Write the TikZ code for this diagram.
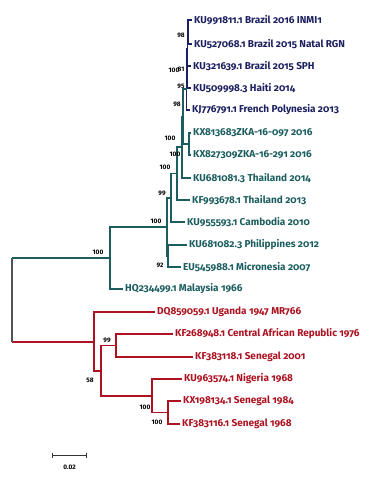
\documentclass[tikz,border=0pt]{standalone}
\usepackage{fontspec}
\setmainfont{Fira Sans}[Numbers=OldStyle]
\newfontfamily\bootfont{Fira Sans}[Numbers=Lining]
\usetikzlibrary{positioning,arrows.meta}

\definecolor{navyz}{RGB}{28,32,96}
\definecolor{tealz}{RGB}{28,94,96}
\definecolor{redz}{RGB}{172,18,32}
\definecolor{rootz}{RGB}{80,84,86}

\begin{document}
\begin{tikzpicture}[x=1pt,y=-1pt,
  tipname/.style={anchor=west, inner sep=2pt, font=\fontsize{10}{11}\selectfont\bfseries},
  boot/.style={inner sep=0pt, font=\bootfont\fontsize{6.5}{7}\selectfont\bfseries},
  branch/.style={line width=1.1pt}]
\useasboundingbox (0,0) rectangle (374,480);

% tips
\node[tipname, navyz] (t1) at (192,20) {KU991811.1 Brazil 2016 INMI1};
\node[tipname, navyz] (t2) at (192,44) {KU527068.1 Brazil 2015 Natal RGN};
\node[tipname, navyz] (t3) at (191,66) {KU321639.1 Brazil 2015 SPH};
\node[tipname, navyz] (t4) at (191,88) {KU509998.3 Haiti 2014};
\node[tipname, navyz] (t5) at (190,110) {KJ776791.1 French Polynesia 2013};
\node[tipname, tealz] (t6) at (191,133) {KX813683ZKA-16-097 2016};
\node[tipname, tealz] (t7) at (191,155) {KX827309ZKA-16-291 2016};
\node[tipname, tealz] (t8) at (191,178) {KU681081.3 Thailand 2014};
\node[tipname, tealz] (t9) at (190,200) {KF993678.1 Thailand 2013};
\node[tipname, tealz] (t10) at (185,222) {KU955593.1 Cambodia 2010};
\node[tipname, tealz] (t11) at (187,245) {KU681082.3 Philippines 2012};
\node[tipname, tealz] (t12) at (181,267) {EU545988.1 Micronesia 2007};
\node[tipname, tealz] (t13) at (123,289) {HQ234499.1 Malaysia 1966};
\node[tipname, redz] (t14) at (155,312) {DQ859059.1 Uganda 1947 MR766};
\node[tipname, redz] (t15) at (173,334) {KF268948.1 Central African Republic 1976};
\node[tipname, redz] (t16) at (193,357) {KF383118.1 Senegal 2001};
\node[tipname, redz] (t17) at (182,379) {KU963574.1 Nigeria 1968};
\node[tipname, redz] (t18) at (181,401) {KX198134.1 Senegal 1984};
\node[tipname, redz] (t19) at (180,424) {KF383116.1 Senegal 1968};

% inner nodes
\coordinate (n1) at (188,32);
\coordinate (n2) at (187.5,49);
\coordinate (n3) at (187,68.5);
\coordinate (n4) at (186.5,89);
\coordinate (zka) at (189,144);
\coordinate (g) at (183,116.5);
\coordinate (f) at (182,147);
\coordinate (e) at (177,173.5);
\coordinate (c) at (171,198);
\coordinate (d) at (168,256);
\coordinate (b) at (167,227);
\coordinate (asia) at (110,258);
\coordinate (r5) at (168,412.5);
\coordinate (r4) at (152,396);
\coordinate (r3) at (116,345.5);
\coordinate (r2) at (101,371);
\coordinate (afr) at (94,342);
\coordinate (root) at (12,300);

% branches
\draw[branch, navyz] (n1) |- (t1.west) (n1) |- (t2.west);
\draw[branch, navyz] (n2) |- (n1) (n2) |- (t3.west);
\draw[branch, navyz] (n3) |- (n2) (n3) |- (t4.west);
\draw[branch, navyz] (n4) |- (n3) (n4) |- (t5.west);
\draw[branch, tealz] (g) |- (n4) (g) |- (zka);
\draw[branch, tealz] (zka) |- (t6.west) (zka) |- (t7.west);
\draw[branch, tealz] (f) |- (g) (f) |- (t8.west);
\draw[branch, tealz] (e) |- (f) (e) |- (t9.west);
\draw[branch, tealz] (c) |- (e) (c) |- (t10.west);
\draw[branch, tealz] (d) |- (t11.west) (d) |- (t12.west);
\draw[branch, tealz] (b) |- (c) (b) |- (d);
\draw[branch, tealz] (asia) |- (b) (asia) |- (t13.west);
\draw[branch, redz] (r5) |- (t18.west) (r5) |- (t19.west);
\draw[branch, redz] (r4) |- (t17.west) (r4) |- (r5);
\draw[branch, redz] (r3) |- (t15.west) (r3) |- (t16.west);
\draw[branch, redz] (r2) |- (r3) (r2) |- (r4);
\draw[branch, redz] (afr) |- (t14.west) (afr) |- (r2);
\draw[branch, tealz] (root |- asia) -- (asia);
\draw[branch, redz] (root |- afr) -- (afr);
\draw[branch, rootz] (root |- asia) -- (root |- afr);

% bootstrap values
\node[boot] (bs1) at (181,35) {98};
\node[boot] (bs2) at (174,70) {100};
\node[boot] (bs3) at (181,69) {81};
\node[boot] (bs4) at (181,86) {95};
\node[boot] (bs5) at (177,104) {98};
\node[boot] (bs6) at (170,138) {100};
\node[boot] (bs7) at (175,154) {100};
\node[boot] (bs8) at (165,167) {100};
\node[boot] (bs9) at (162,193) {99};
\node[boot] (bs10) at (156,221) {100};
\node[boot] (bs11) at (160,265) {92};
\node[boot] (bs12) at (98,252) {100};
\node[boot] (bs13) at (107,340) {99};
\node[boot] (bs14) at (90,380) {58};
\node[boot] (bs15) at (145,407) {100};
\node[boot] (bs16) at (157,422) {100};

% scale bar
\coordinate (sb1) at (52,455);
\coordinate (sb2) at (87,455);
\draw[line width=1pt, black!80, {Bar[width=5pt]}-{Bar[width=5pt]}] (sb1) -- (sb2);
\node[boot] (sblabel) at (69.5,467) {0.02};
\end{tikzpicture}
\end{document}
